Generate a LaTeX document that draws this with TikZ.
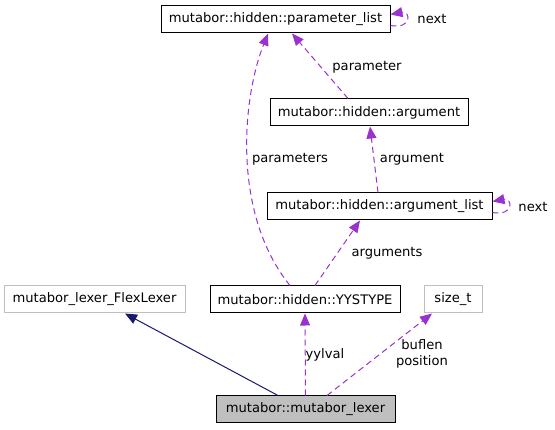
\documentclass[tikz,border=0pt]{standalone}
\usepackage{fontspec}
\setmainfont{DejaVu Sans}
\usetikzlibrary{arrows.meta,calc}
\definecolor{depc}{HTML}{9A32CD}
\definecolor{inhc}{HTML}{191970}

\begin{document}
\begin{tikzpicture}[x=1pt,y=1pt,font=\fontsize{13.1}{16}\selectfont,
      >={Triangle[length=12pt,width=10pt]},
      cls/.style={draw,fill=white,minimum height=27pt,inner sep=0pt,line width=1pt},
      ext/.style={cls,draw=black!25},
      dep/.style={->,draw=depc,line width=1pt,dash pattern=on 6pt off 4pt},
      inh/.style={->,draw=inhc,line width=1pt},
      lbl/.style={align=center,inner sep=1pt}]
    \useasboundingbox (0,0) rectangle (555,429);
    % classes
    \node[cls,minimum width=229pt] (plist) at (275.5,409.5) {mutabor::hidden::parameter\_list};
    \node[cls,minimum width=198pt] (arg) at (369,316.5) {mutabor::hidden::argument};
    \node[cls,minimum width=225pt] (arglist) at (379.5,222.5) {mutabor::hidden::argument\_list};
    \node[cls,minimum width=190pt] (yys) at (305,129.5) {mutabor::hidden::YYSTYPE};
    \node[ext,minimum width=181pt] (flex) at (94.5,129.5) {mutabor\_lexer\_FlexLexer};
    \node[ext,minimum width=58pt] (sizet) at (453,129.5) {size\_t};
    \node[cls,fill=black!25,minimum width=179pt,minimum height=26pt] (lexer) at (305.5,20) {mutabor::mutabor\_lexer};
    % self references
    \draw[dep] ($(plist.east)+(0,-6)$) .. controls +(22,-4) and +(20,4) .. ($(plist.east)+(0,5)$);
    \node[lbl] (nxt1) at (432,410) {next};
    \draw[dep] ($(arglist.east)+(0,-6)$) .. controls +(22,-4) and +(20,4) .. ($(arglist.east)+(0,5)$);
    \node[lbl] (nxt2) at (533,222) {next};
    % members
    \draw[dep] ($(arg.north)+(-21,0)$) -- ($(plist.south)+(16.5,0)$);
    \node[lbl] (lparam) at (367,362) {parameter};
    \draw[dep] ($(yys.north)+(-15,0)$) .. controls (232,215) and (242,330) .. ($(plist.south)+(-7.5,0)$);
    \node[lbl] (lparams) at (290,270) {parameters};
    \draw[dep] ($(arglist.north)+(-1.5,0)$) -- ($(arg.south)+(1,0)$);
    \node[lbl] (larg) at (412,270) {argument};
    \draw[dep] ($(yys.north)+(10,0)$) -- ($(arglist.south)+(-19.5,0)$);
    \node[lbl] (largs) at (387,176) {arguments};
    % lexer
    \draw[inh] ($(lexer.north)+(-27.5,0)$) -- ($(flex.south)+(30.5,0)$);
    \draw[dep] (lexer.north) -- (yys.south);
    \node[lbl] (lyyl) at (325,74) {yylval};
    \draw[dep] ($(lexer.north)+(21.5,0)$) -- ($(sizet.south)+(-21,0)$);
    \node[lbl] (lbuf) at (422,75) {buflen\\position};
\end{tikzpicture}
\end{document}
